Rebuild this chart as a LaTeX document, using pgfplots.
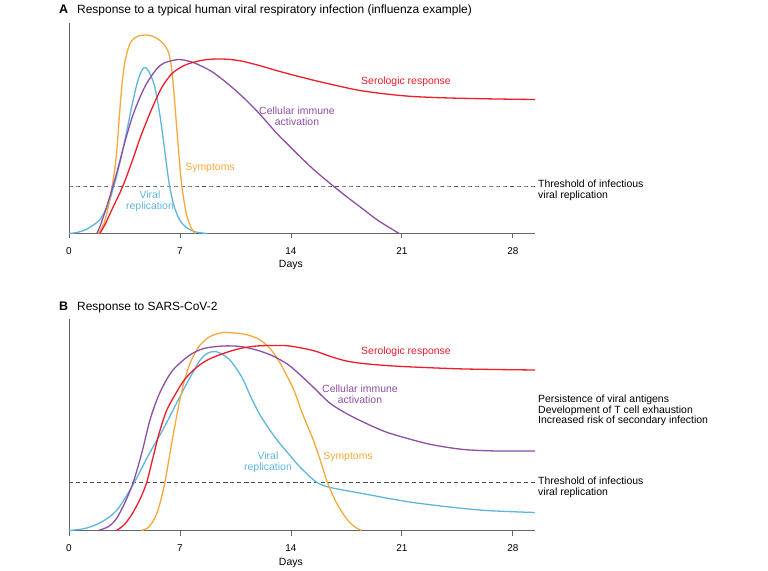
\documentclass[border=0pt]{standalone}
\usepackage{pgfplots}
\pgfplotsset{compat=1.18}
\usepackage{fontspec}
\setmainfont{Liberation Sans}
\definecolor{corange}{HTML}{F9A83A}
\definecolor{cblue}{HTML}{5EB6DE}
\definecolor{cpurple}{HTML}{8B4FA6}
\definecolor{cred}{HTML}{EE1D2A}
\definecolor{caxis}{HTML}{666666}
\definecolor{cdash}{HTML}{4D4D4D}
\newcommand{\lab}{\fontsize{10.5}{11}\selectfont}
\pgfplotsset{panel/.style={scale only axis, width=466bp, xmin=0, xmax=29.4, ymin=0,
  axis lines*=left, axis line style={caxis, line width=0.9bp},
  xtick={0,7,14,21,28}, ytick=\empty, tick align=outside, major tick length=5bp,
  tick style={caxis, line width=0.8bp},
  xticklabel style={font=\fontsize{10}{12}\selectfont, anchor=base, yshift=-16.2bp},
  /pgf/number format/assume math mode=true, clip=false,
  every axis plot/.append style={line width=1.3bp, smooth, tension=0.5, no markers}}}
\begin{document}
\begin{tikzpicture}
\useasboundingbox (0,0) rectangle (768bp,571bp);
% Panel A
\begin{axis}[panel, at={(69bp,337.5bp)}, anchor=south west, height=210bp, ymax=210]
\addplot[cdash, line width=0.9bp, dash pattern=on 4bp off 3bp] coordinates {(0,47.5)(29.4,47.5)};
\addplot[cblue] coordinates {(0,0)(0.5,1)(1.0,3.5)(1.5,8)(2.0,15)(2.5,30)(2.8,46)(3.0,57)(3.3,77)(3.6,99)(4.0,130)(4.27,148.5)(4.5,160)(4.75,166)(5.0,163)(5.38,148.5)(5.7,122)(6.0,88)(6.3,52)(6.6,29)(7.0,13)(7.5,5)(8.0,1.5)(8.7,0)};
\addplot[corange] coordinates {(1.85,0)(2.2,10)(2.5,28)(2.8,55)(3.0,80)(3.2,122)(3.35,150)(3.53,172)(3.85,190)(4.3,197)(4.9,198.5)(5.4,196.5)(5.95,190)(6.26,182)(6.45,168)(6.6,145)(6.85,95)(7.1,50)(7.4,20)(7.7,6)(7.95,0)};
\addplot[cpurple] coordinates {(1.75,0)(2.0,9)(2.5,33)(3.0,60)(3.5,90)(4.0,117)(4.5,137)(4.9,150)(5.5,164)(6.0,170.5)(6.9,174)(7.5,172.5)(8.0,170)(9,162)(10,150)(11,136)(12,120)(13,102)(13.3,97)(14,86)(14.57,77)(15.5,63)(16.67,47.5)(17.5,37)(18.5,25)(19.5,13)(20.83,0)};
\addplot[cred] coordinates {(1.95,0)(2.3,10)(2.8,27)(3.4,47.5)(4.0,73)(4.5,96)(5.1,120)(5.6,138)(5.95,148.5)(6.5,160)(7.2,167.5)(7.8,171)(8.5,173.5)(9.3,174.5)(10.2,174)(11,172)(12,168)(13.3,162)(14.5,157)(15.5,153)(17,147.5)(18.35,143)(20,139.5)(21.7,137)(24,135.5)(27,134.5)(29.4,134)};
\node[anchor=base, font=\lab] at (axis cs:14,0) [yshift=-34.5bp] {Days};
\end{axis}
% Panel B
\begin{axis}[panel, at={(69bp,40.5bp)}, anchor=south west, height=211bp, ymax=211]
\addplot[cdash, line width=0.9bp, dash pattern=on 4bp off 3bp] coordinates {(0,48)(29.4,48)};
\addplot[cblue] coordinates {(0,0)(1,2)(2,8)(3,20)(4.05,46)(5,75)(6,103)(7,134)(7.6,152)(8.26,170)(8.7,177)(9.2,179)(9.7,176)(10.15,170.5)(10.6,161)(11.0,150.5)(11.4,136)(12,117)(12.6,102)(13.3,87)(14.0,74)(14.6,63)(15.6,48.5)(16.5,43)(18.5,37)(21.7,28)(25.9,20.5)(29.4,18)};
\addplot[corange] coordinates {(4.58,0)(5.0,3)(5.4,12)(5.7,25)(6.05,48)(6.4,80)(6.8,115)(7.2,145)(7.63,167)(8.2,184)(8.9,194)(9.73,198)(10.4,197.5)(11.0,196.5)(11.5,194.5)(12.0,191)(12.5,185)(12.88,178)(13.3,168)(13.72,155.5)(14.2,140)(14.7,118)(15.4,91)(15.9,68)(16.3,48)(16.9,27)(17.5,12)(18.0,4)(18.45,0)};
\addplot[cpurple] coordinates {(1.85,0)(2.5,4)(3.0,12)(3.5,27)(4.05,48)(4.6,78)(5.1,110)(5.6,133)(6.16,151)(6.7,163)(7.63,175.5)(8.5,182)(9.73,184.5)(10.8,184)(11.83,180.5)(12.8,175)(13.72,167)(14.35,159)(15.4,143.5)(16.45,127.5)(17.5,117)(18.56,108.5)(20,98.5)(21.7,90.5)(23,85.5)(24.9,81)(27,79.5)(29.4,79.5)};
\addplot[cred] coordinates {(3.0,0)(3.5,6)(4.0,17)(4.5,32)(4.9,48)(5.3,73)(5.7,98)(6.16,120)(6.7,136)(7.2,149)(7.63,157)(8.2,165)(8.8,171)(9.73,177)(10.8,182)(11.83,184.5)(13.0,185)(13.93,184.5)(15.4,180)(16.5,174)(17.5,169.5)(18.56,167)(20,165)(21.7,163.5)(25,161.5)(29.4,160.5)};
\node[anchor=base, font=\lab] at (axis cs:14,0) [yshift=-34.5bp] {Days};
\end{axis}
% Titles
\node[anchor=base west, inner sep=0, font=\fontsize{12.5}{14}\selectfont\bfseries] at (59bp,557bp) {A};
\node[anchor=base west, inner sep=0, font=\fontsize{12}{14}\selectfont] at (77bp,557bp) {Response to a typical human viral respiratory infection (influenza example)};
\node[anchor=base west, inner sep=0, font=\fontsize{12.5}{14}\selectfont\bfseries] at (59bp,260.3bp) {B};
\node[anchor=base west, inner sep=0, font=\fontsize{12}{14}\selectfont] at (77bp,260.3bp) {Response to SARS-CoV-2};
% Labels A
\node[inner sep=0, font=\lab, text=cred] at (406bp,489bp) {Serologic response};
\node[inner sep=0, font=\lab, text=cpurple, align=center] at (297bp,454.5bp) {Cellular immune\\activation};
\node[inner sep=0, font=\lab, text=corange] at (210bp,403bp) {Symptoms};
\node[inner sep=0, font=\lab, text=cblue, align=center] at (150bp,369.3bp) {Viral\\replication};
\node[inner sep=0, font=\lab, anchor=west, align=left] at (538bp,380.6bp) {Threshold of infectious\\viral replication};
% Labels B
\node[inner sep=0, font=\lab, text=cred] at (406bp,219.3bp) {Serologic response};
\node[inner sep=0, font=\lab, text=cpurple, align=center] at (360bp,176.3bp) {Cellular immune\\activation};
\node[inner sep=0, font=\lab, text=corange] at (348bp,113.7bp) {Symptoms};
\node[inner sep=0, font=\lab, text=cblue, align=center] at (268bp,108.5bp) {Viral\\replication};
\node[inner sep=0, font=\lab, anchor=west, align=left] at (538bp,160.7bp) {Persistence of viral antigens\\Development of T cell exhaustion\\Increased risk of secondary infection};
\node[inner sep=0, font=\lab, anchor=west, align=left] at (538bp,83.8bp) {Threshold of infectious\\viral replication};
\end{tikzpicture}
\end{document}
